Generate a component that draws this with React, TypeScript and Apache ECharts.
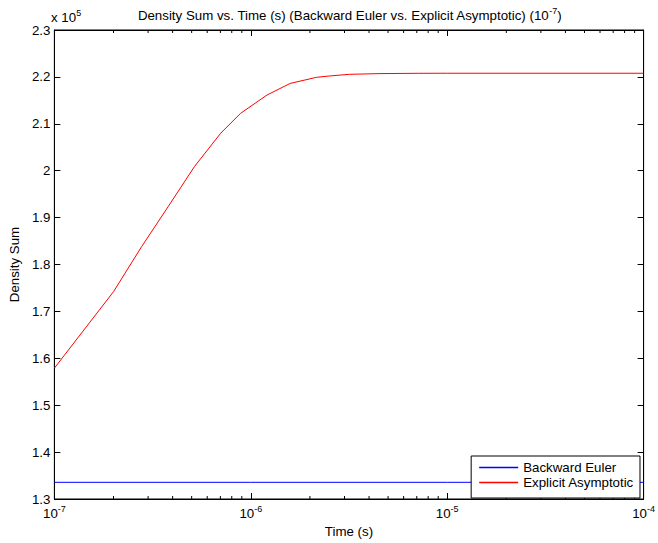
import React, { useEffect, useRef } from "react";
import * as echarts from "echarts";

const timeRed = [1e-7, 2e-7, 2.78e-7, 3.79e-7, 5.16e-7, 7.03e-7, 8.87e-7, 1.21e-6, 1.585e-6, 2.16e-6, 2.52e-6, 3.18e-6, 4.5e-6, 7.17e-6, 1e-5, 1e-4];
const explicitAsymptotic = [157900, 174200, 183800, 192300, 200850, 208000, 212230, 216140, 218600, 219910, 220200, 220550, 220700, 220770, 220780, 220780];
const timeBlue = [1e-7, 1e-6, 1e-5, 1e-4];
const backwardEuler = [133560, 133560, 133560, 133560];
const minorTicks = [2e-7, 3e-7, 4e-7, 5e-7, 6e-7, 7e-7, 8e-7, 9e-7, 2e-6, 3e-6, 4e-6, 5e-6, 6e-6, 7e-6, 8e-6, 9e-6, 2e-5, 3e-5, 4e-5, 5e-5, 6e-5, 7e-5, 8e-5, 9e-5];
const yMin = 130000;
const yMax = 230000;
const yStep = 10000;

const FONT = "Liberation Sans, Arial, Helvetica, sans-serif";
const FS = 13.3;
const BLUE = "#0000ff";
const RED = "#ff0000";

export default function App() {
  const ref = useRef<HTMLDivElement>(null);
  useEffect(() => {
    if (!ref.current) return;
    const chart = echarts.init(ref.current, null, { renderer: "svg" });
    const supRich = {
      base: { fontSize: FS, fontFamily: FONT, color: "#000" },
      sup: { fontSize: 9, fontFamily: FONT, color: "#000", padding: [0, 0, 9, 0] },
    };
    const xLabel = (v: number) => {
      const e = Math.round(Math.log10(v));
      return "{base|10}{sup|" + e + "}";
    };
    const yLabel = (v: number) => {
      const s = (v / 1e5).toFixed(1);
      return s.endsWith(".0") ? s.slice(0, -2) : s;
    };
    chart.setOption({
      animation: false,
      backgroundColor: "#fff",
      grid: { left: 52, right: 11, top: 30, bottom: 44, show: true, borderColor: "#000", borderWidth: 1, containLabel: false },
      graphic: [
        {
          type: "text",
          x: 349.5,
          y: 15,
          style: {
            text: "{base|Density Sum vs. Time (s) (Backward Euler vs. Explicit Asymptotic) (10}{sup|-7}{base|)}",
            rich: supRich,
            align: "center",
            verticalAlign: "middle",
          },
        },
        {
          type: "text",
          x: 51,
          y: 17,
          style: {
            text: "{base|x 10}{sup|5}",
            rich: supRich,
            align: "left",
            verticalAlign: "middle",
          },
        },
      ],
      xAxis: [
        {
          type: "log",
          logBase: 10,
          min: 1e-7,
          max: 1e-4,
          position: "bottom",
          name: "Time (s)",
          nameLocation: "middle",
          nameGap: 26,
          nameTextStyle: { fontSize: FS, fontFamily: FONT, color: "#000" },
          axisLine: { show: true, lineStyle: { color: "#000", width: 1 } },
          axisTick: { show: true, inside: true, length: 6, lineStyle: { color: "#000" } },
          axisLabel: { formatter: xLabel, rich: supRich, margin: 5 },
          splitLine: { show: false },
          minorTick: { show: false },
        },
        {
          type: "log",
          logBase: 10,
          min: 1e-7,
          max: 1e-4,
          position: "top",
          axisLine: { show: true, lineStyle: { color: "#000", width: 1 } },
          axisTick: { show: true, inside: true, length: 6, lineStyle: { color: "#000" } },
          axisLabel: { show: false },
          splitLine: { show: false },
        },
      ],
      yAxis: [
        {
          type: "value",
          min: yMin,
          max: yMax,
          interval: yStep,
          position: "left",
          name: "Density Sum",
          nameLocation: "middle",
          nameGap: 29,
          nameTextStyle: { fontSize: FS, fontFamily: FONT, color: "#000" },
          axisLine: { show: true, lineStyle: { color: "#000", width: 1 } },
          axisTick: { show: true, inside: true, length: 6, lineStyle: { color: "#000" } },
          axisLabel: { formatter: yLabel, fontSize: FS, fontFamily: FONT, color: "#000", margin: 4 },
          splitLine: { show: false },
        },
        {
          type: "value",
          min: yMin,
          max: yMax,
          interval: yStep,
          position: "right",
          axisLine: { show: true, lineStyle: { color: "#000", width: 1 } },
          axisTick: { show: true, inside: true, length: 6, lineStyle: { color: "#000" } },
          axisLabel: { show: false },
          splitLine: { show: false },
        },
      ],
      legend: {
        orient: "vertical",
        right: 18,
        top: 456,
        data: [
          { name: "Backward Euler", icon: "rect", itemStyle: { color: BLUE, borderWidth: 0 } },
          { name: "Explicit Asymptotic", icon: "rect", itemStyle: { color: RED, borderWidth: 0 } },
        ],
        backgroundColor: "#fff",
        borderColor: "#000",
        borderWidth: 1,
        borderRadius: 0,
        padding: [4, 6, 8, 8],
        itemWidth: 39,
        itemHeight: 1.5,
        itemGap: 0,
        itemStyle: { borderWidth: 0 },
        textStyle: { fontSize: FS, fontFamily: FONT, color: "#000", lineHeight: 15 },
      },
      series: [
        {
          name: "Backward Euler",
          type: "line",
          data: timeBlue.map((t, i) => [t, backwardEuler[i]]),
          symbol: "none",
          color: BLUE,
          lineStyle: { color: BLUE, width: 1 },
          itemStyle: { color: BLUE },
          z: 3,
        },
        {
          name: "Explicit Asymptotic",
          type: "line",
          data: timeRed.map((t, i) => [t, explicitAsymptotic[i]]),
          symbol: "none",
          color: RED,
          lineStyle: { color: RED, width: 1 },
          itemStyle: { color: RED },
          z: 3,
        },
        {
          name: "minor",
          type: "custom",
          silent: true,
          clip: false,
          data: minorTicks.map((t) => [t, yMin]),
          renderItem: (params: any, api: any) => {
            const t = api.value(0);
            const b = api.coord([t, yMin]);
            const tp = api.coord([t, yMax]);
            return {
              type: "group",
              children: [
                { type: "line", shape: { x1: b[0], y1: b[1], x2: b[0], y2: b[1] - 3 }, style: { stroke: "#000", lineWidth: 1 } },
                { type: "line", shape: { x1: tp[0], y1: tp[1], x2: tp[0], y2: tp[1] + 3 }, style: { stroke: "#000", lineWidth: 1 } },
              ],
            };
          },
          z: 2,
        },
      ],
    });
    return () => chart.dispose();
  }, []);
  return <div ref={ref} style={{ position: "fixed", left: 0, top: 0, width: 658, height: 543 }} />;
}
